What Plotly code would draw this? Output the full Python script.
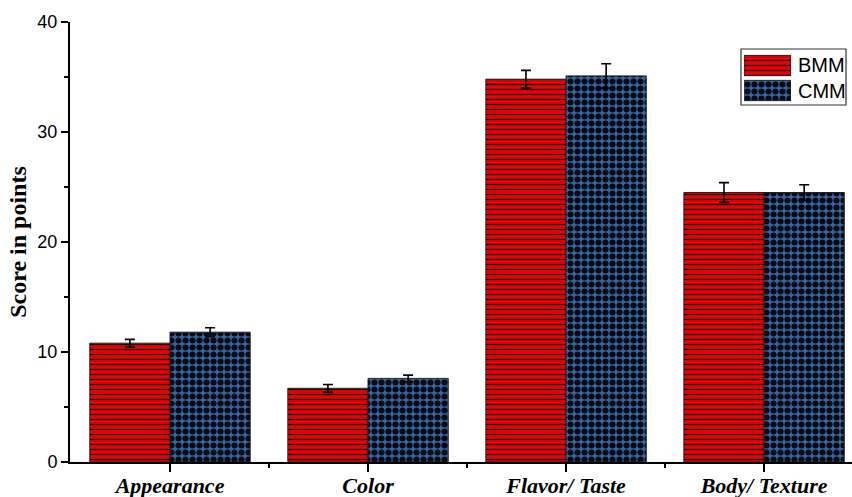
import plotly.graph_objects as go

categories = ["Appearance", "Color", "Flavor/ Taste", "Body/ Texture"]
bmm_values = [10.8, 6.7, 34.8, 24.5]
bmm_errors = [0.35, 0.35, 0.8, 0.9]
cmm_values = [11.8, 7.6, 35.1, 24.5]
cmm_errors = [0.4, 0.3, 1.1, 0.7]
y_ticks = [0, 10, 20, 30, 40]
series_names = ["BMM", "CMM"]

RED = "#ee0000"
BLUE = "#3466a0"
DOT = "#0a0a14"

x_pos = list(range(len(categories)))

red_marker = dict(color=RED, line=dict(color="#222222", width=1),
                  pattern=dict(shape="-", fgcolor="black", bgcolor=RED,
                               size=5, solidity=0.25, fillmode="replace"))
blue_marker = dict(color=BLUE, line=dict(color="#222222", width=1),
                   pattern=dict(shape=".", fgcolor=DOT, bgcolor=BLUE,
                                size=7, solidity=0.6, fillmode="replace"))

fig = go.Figure()
fig.add_trace(go.Bar(
    name="BMM", x=x_pos, y=bmm_values, showlegend=False,
    error_y=dict(type="data", array=bmm_errors, color="black", thickness=1.6, width=5),
    marker=red_marker,
))
fig.add_trace(go.Bar(
    name="CMM", x=x_pos, y=cmm_values, showlegend=False,
    error_y=dict(type="data", array=cmm_errors, color="black", thickness=1.6, width=5),
    marker=blue_marker,
))

# legend swatches (patterned bars on a small inset axis)
for i, mk in enumerate([red_marker, blue_marker]):
    fig.add_trace(go.Bar(
        x=[1], y=[1 - i], orientation="h", xaxis="x2", yaxis="y2",
        offsetgroup="legend", showlegend=False, hoverinfo="skip",
        marker=mk,
    ))

def px_x(p):
    return (p - 70) / 782

def px_y(p):
    return (462 - p) / 440

fig.add_shape(type="rect", xref="paper", yref="paper",
              x0=px_x(741), x1=px_x(846), y0=px_y(105), y1=px_y(49),
              line=dict(color="#333333", width=1.2), fillcolor="white", layer="below")
for i, name in enumerate(series_names):
    fig.add_annotation(text=name, xref="paper", yref="paper",
                       x=px_x(796), y=px_y(65 + 26 * i), xanchor="left", yanchor="middle",
                       showarrow=False,
                       font=dict(family="Liberation Sans, Arial", size=20, color="black"))

fig.update_layout(
    width=852, height=497,
    margin=dict(l=70, r=0, t=22, b=35, autoexpand=False),
    plot_bgcolor="white", paper_bgcolor="white",
    barmode="group", bargap=0.19, bargroupgap=0,
    showlegend=False,
    xaxis=dict(
        range=[-0.505, 3.444],
        tickvals=x_pos, ticktext=categories,
        tickfont=dict(family="Liberation Serif, Times New Roman", size=22, color="black",
                      weight="bold", style="italic"),
        ticklabelstandoff=-5,
        showline=True, linecolor="black", linewidth=2,
        ticks="outside", ticklen=8, tickwidth=2, tickcolor="black",
        minor=dict(tickvals=[0.5, 1.5, 2.5], ticks="outside", ticklen=4,
                   tickwidth=2, tickcolor="black"),
        showgrid=False, zeroline=False,
    ),
    yaxis=dict(
        range=[0, 40],
        tickvals=y_ticks,
        tickfont=dict(family="Liberation Sans, Arial", size=18, color="black"),
        showline=True, linecolor="black", linewidth=2,
        ticks="outside", ticklen=7, tickwidth=2, tickcolor="black",
        minor=dict(dtick=5, ticks="outside", ticklen=4, tickwidth=2, tickcolor="black"),
        showgrid=False, zeroline=False,
        title=dict(text="Score in points", standoff=4,
                   font=dict(family="Liberation Serif, Times New Roman", size=24,
                             color="black", weight="bold")),
    ),
    xaxis2=dict(domain=[px_x(744), px_x(791)], range=[0, 1], anchor="y2",
                visible=False, fixedrange=True),
    yaxis2=dict(domain=[px_y(103), px_y(53)], range=[-0.5, 1.5], anchor="x2",
                visible=False, fixedrange=True),
)

fig.write_html("out.html", config={"displayModeBar": False},
               post_script="document.body.style.margin='0';document.body.style.overflow='hidden';")
